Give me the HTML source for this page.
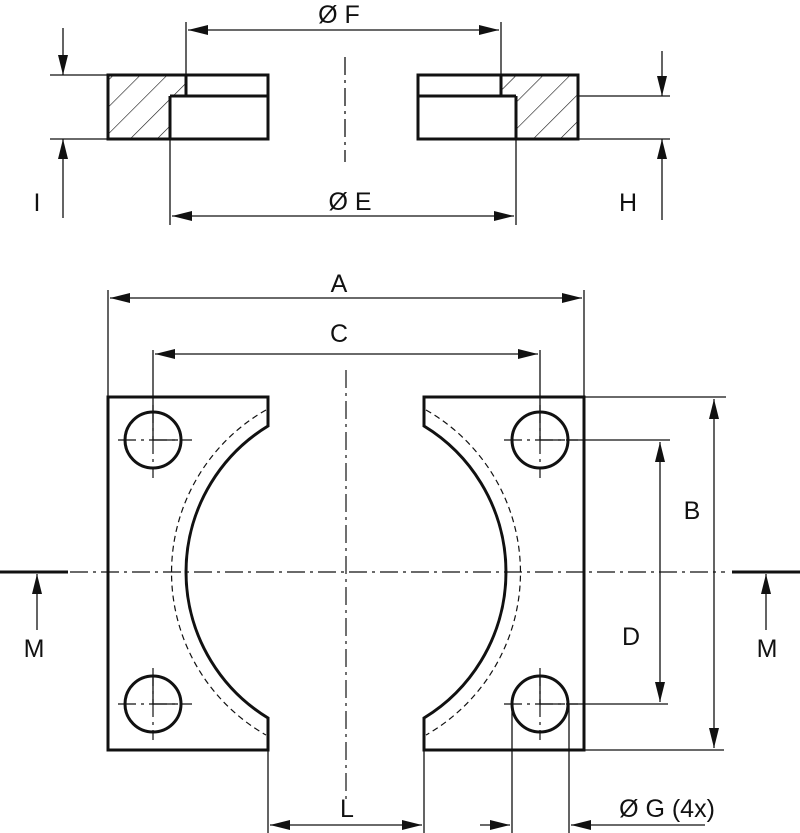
<!DOCTYPE html>
<html><head><meta charset="utf-8"><style>body{margin:0;background:#fff}svg{display:block}text{font-family:"Liberation Sans",sans-serif;font-size:25px;fill:#111;text-anchor:middle}</style></head><body>
<svg width="800" height="833" viewBox="0 0 800 833" xmlns="http://www.w3.org/2000/svg">
<defs>
<pattern id="h" patternUnits="userSpaceOnUse" width="19" height="19" patternTransform="rotate(45)"><line x1="0" y1="0" x2="0" y2="19" stroke="#111" stroke-width="1.2"/></pattern>
<marker id="a" viewBox="0 0 20 10" refX="20" refY="5" markerWidth="20" markerHeight="10" markerUnits="userSpaceOnUse" orient="auto"><path d="M0,0L20,5L0,10z" fill="#111"/></marker>
</defs>
<g stroke="#111" fill="none">
<path d="M108,75H186V96H170V139H108Z" fill="url(#h)" stroke="none"/>
<path d="M501,75H578V139H516V96H501Z" fill="url(#h)" stroke="none"/>
<g stroke-width="3">
<rect x="108" y="75" width="160" height="64"/>
<path d="M186,75V96M170,96H268M170,96V139"/>
<rect x="418" y="75" width="160" height="64"/>
<path d="M501,75V96M418,96H516M516,96V139"/>
</g>
<g stroke-width="1.3">
<path d="M345,57V162" stroke-dasharray="18,5,3,5"/>
<path d="M186,22V75M501,22V75M170,139V225M516,139V225"/>
<path d="M345,30H188" marker-end="url(#a)"/><path d="M345,30H499" marker-end="url(#a)"/>
<path d="M345,216H172" marker-end="url(#a)"/><path d="M345,216H514" marker-end="url(#a)"/>
<path d="M50,75H108M50,139H108M578,96H670M578,139H670"/>
<path d="M63,28V75" marker-end="url(#a)"/><path d="M63,218V139" marker-end="url(#a)"/>
<path d="M662,51V96" marker-end="url(#a)"/><path d="M662,220V139" marker-end="url(#a)"/>
</g>
<g stroke-width="3">
<path d="M268,426V397H108V750H268V718A171,171 0 0 1 268,426Z"/>
<path d="M424,426V397H584V750H424V718A171,171 0 0 0 424,426Z"/>
<circle cx="153" cy="440" r="28"/><circle cx="153" cy="704" r="28"/>
<circle cx="540" cy="440" r="28"/><circle cx="540" cy="704" r="28"/>
</g>
<g stroke-width="1.2" stroke-dasharray="6,4">
<path d="M266,410A187,187 0 0 0 266,735"/>
<path d="M426,410A187,187 0 0 1 426,735"/>
</g>
<g stroke-width="1.2" stroke-dasharray="18,5,3,5">
<path d="M346,370V800"/><path d="M70,572H725"/>
<path d="M118,440H192M118,704H192M504,440H578M504,704H578"/>
<path d="M153,405V478M153,668V740M540,405V478M540,668V740"/>
</g>
<g stroke-width="1.3">
<path d="M153,440V412M153,440H178M153,704V676M153,704H178M540,440V412M540,440H565M540,704V676M540,704H565"/>
<path d="M108,290V397M584,290V397"/>
<path d="M346,298H110" marker-end="url(#a)"/><path d="M346,298H582" marker-end="url(#a)"/>
<path d="M153,350V412M540,350V412"/>
<path d="M346,354H155" marker-end="url(#a)"/><path d="M346,354H538" marker-end="url(#a)"/>
<path d="M584,397H726M584,750H724M569,440H670M569,704H668"/>
<path d="M714,572V399" marker-end="url(#a)"/><path d="M714,572V748" marker-end="url(#a)"/>
<path d="M660,572V442" marker-end="url(#a)"/><path d="M660,572V702" marker-end="url(#a)"/>
<path d="M268,750V833M424,750V833M512,704V833M569,704V833"/>
<path d="M346,825H270" marker-end="url(#a)"/><path d="M346,825H422" marker-end="url(#a)"/>
<path d="M480,825H510" marker-end="url(#a)"/><path d="M705,825H571" marker-end="url(#a)"/>
<path d="M37,630V574" marker-end="url(#a)"/><path d="M766,630V574" marker-end="url(#a)"/>
</g>
<path d="M0,572H68M732,572H800" stroke-width="3"/>
</g>
<text x="339" y="23">Ø F</text>
<text x="350" y="210">Ø E</text>
<text x="37" y="211">I</text>
<text x="628" y="211">H</text>
<text x="339" y="292">A</text>
<text x="339" y="342">C</text>
<text x="692" y="519">B</text>
<text x="631" y="645">D</text>
<text x="34" y="657">M</text>
<text x="767" y="657">M</text>
<text x="347" y="817">L</text>
<text x="667" y="817">Ø G (4x)</text>
</svg>
</body></html>
